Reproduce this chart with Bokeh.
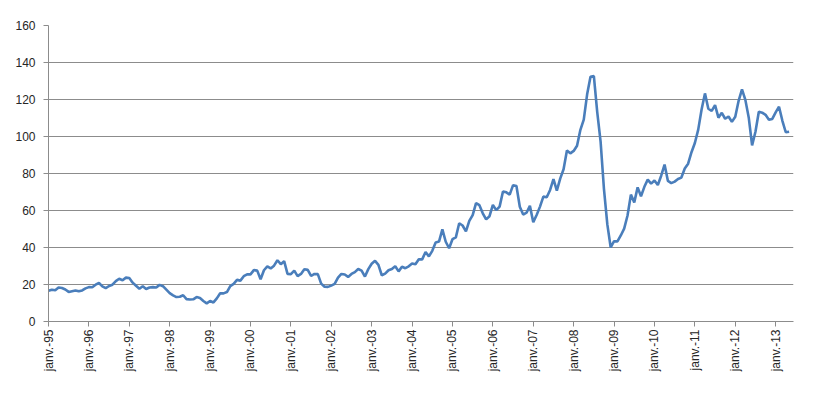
from bokeh.plotting import figure
from bokeh.models import FixedTicker, Range1d
from bokeh.embed import file_html
from bokeh.resources import INLINE

# Monthly values, Jan 1995 .. May 2013
y1995 = [16.6, 17.2, 16.9, 18.4, 18.1, 17.3, 16.0, 16.4, 16.8, 16.3, 16.8, 17.9]
y1996 = [18.6, 18.5, 19.9, 20.8, 19.0, 18.0, 19.2, 19.9, 21.8, 23.1, 22.3, 23.7]
y1997 = [23.5, 21.0, 19.3, 17.7, 19.1, 17.6, 18.4, 18.6, 18.4, 19.8, 19.1, 17.2]
y1998 = [15.3, 14.1, 13.2, 13.4, 14.2, 12.1, 11.9, 12.0, 13.2, 12.7, 11.1, 9.8]
y1999 = [11.1, 10.3, 12.5, 15.3, 15.2, 15.9, 19.1, 20.3, 22.5, 22.1, 24.5, 25.5]
y2000 = [25.5, 27.8, 27.5, 22.8, 27.7, 29.8, 28.7, 30.2, 33.1, 31.0, 32.6, 25.7]
y2001 = [25.6, 27.5, 24.5, 25.7, 28.3, 27.9, 24.6, 25.7, 25.6, 20.5, 18.8, 18.7]
y2002 = [19.4, 20.3, 23.7, 25.7, 25.4, 24.1, 25.7, 26.7, 28.4, 27.5, 24.3, 28.3]
y2003 = [31.2, 32.8, 30.6, 25.0, 25.9, 27.7, 28.4, 29.9, 27.1, 29.6, 28.8, 29.8]
y2004 = [31.3, 30.9, 33.6, 33.6, 37.6, 35.2, 38.2, 42.7, 43.2, 49.8, 43.1, 39.6]
y2005 = [44.5, 45.5, 53.1, 51.9, 48.7, 54.4, 57.5, 64.0, 62.9, 58.5, 55.2, 56.9]
y2006 = [63.0, 60.2, 62.1, 70.3, 69.8, 68.6, 73.7, 73.2, 62.0, 57.8, 58.8, 62.5]
y2007 = [53.7, 57.6, 62.1, 67.5, 67.2, 71.1, 76.9, 70.8, 77.2, 82.3, 92.4, 90.9]
y2008 = [92.2, 95.0, 103.6, 109.1, 122.8, 132.3, 132.7, 113.2, 97.2, 71.6, 52.5, 40.0]
y2009 = [43.4, 43.3, 46.5, 50.2, 57.3, 68.6, 64.4, 72.5, 67.7, 72.8, 76.7, 74.5]
y2010 = [76.2, 73.8, 78.8, 84.8, 76.0, 74.8, 75.6, 77.0, 77.8, 82.7, 85.3, 91.5]
y2011 = [96.5, 103.7, 114.6, 123.3, 115.0, 113.8, 117.0, 110.2, 112.8, 109.6, 110.8, 107.9]
y2012 = [110.7, 119.3, 125.5, 119.8, 110.3, 95.2, 102.6, 113.4, 112.9, 111.7, 109.1, 109.5]
y2013 = [113.0, 116.1, 108.5, 102.3, 102.6]

tick_labels = ["janv.-95", "janv.-96", "janv.-97", "janv.-98", "janv.-99",
               "janv.-00", "janv.-01", "janv.-02", "janv.-03", "janv.-04",
               "janv.-05", "janv.-06", "janv.-07", "janv.-08", "janv.-09",
               "janv.-10", "janv.-11", "janv.-12", "janv.-13"]
y_ticks = [0, 20, 40, 60, 80, 100, 120, 140, 160]

values = (y1995 + y1996 + y1997 + y1998 + y1999 + y2000 + y2001 + y2002 +
          y2003 + y2004 + y2005 + y2006 + y2007 + y2008 + y2009 + y2010 +
          y2011 + y2012 + y2013)
months = list(range(len(values)))
tick_pos = [12 * i for i in range(len(tick_labels))]

p = figure(width=810, height=387, output_backend="svg", toolbar_location=None,
           x_range=Range1d(0, 221.3), y_range=Range1d(0, 160),
           min_border_left=48, min_border_right=17, min_border_top=25,
           min_border_bottom=66)
p.outline_line_color = None
p.background_fill_color = "white"
p.border_fill_color = "white"

p.line(months, values, line_color="#4a7ebb", line_width=2.6)

font = "Liberation Sans"
p.xaxis.ticker = FixedTicker(ticks=tick_pos)
p.xaxis.major_label_overrides = {pos: lab for pos, lab in zip(tick_pos, tick_labels)}
p.xaxis.major_label_orientation = 1.5708
p.xaxis.major_label_text_font = font
p.xaxis.major_label_text_font_size = "12px"
p.xaxis.major_label_text_color = "#262626"
p.xaxis.major_label_standoff = 3
p.xaxis.axis_line_color = "#8c8c8c"
p.xaxis.major_tick_line_color = "#8c8c8c"
p.xaxis.major_tick_out = 5
p.xaxis.major_tick_in = 0
p.xaxis.minor_tick_line_color = None

p.yaxis.ticker = FixedTicker(ticks=y_ticks)
p.yaxis.major_label_text_font = font
p.yaxis.major_label_text_font_size = "12px"
p.yaxis.major_label_text_color = "#262626"
p.yaxis.major_label_standoff = 8
p.yaxis.axis_line_color = "#8c8c8c"
p.yaxis.major_tick_line_color = "#8c8c8c"
p.yaxis.major_tick_out = 5
p.yaxis.major_tick_in = 0
p.yaxis.minor_tick_line_color = None

p.xgrid.grid_line_color = None
p.ygrid.ticker = FixedTicker(ticks=y_ticks)
p.ygrid.grid_line_color = "#8c8c8c"
p.ygrid.grid_line_width = 1

open("out.html", "w").write(file_html(p, INLINE))
